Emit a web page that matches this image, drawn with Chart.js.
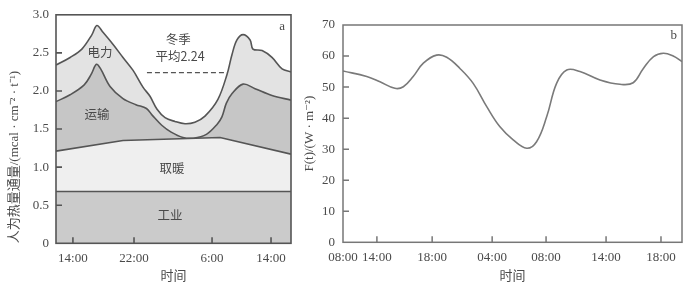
<!DOCTYPE html>
<html>
<head>
<meta charset="utf-8">
<script src="https://cdn.jsdelivr.net/npm/chart.js@4"></script>
<style>
  html, body { margin: 0; padding: 0; background: #fff; }
  #wrap { position: relative; width: 692px; height: 291px; }
  #left { position: absolute; left: 0; top: 0; }
  #right { position: absolute; left: 300px; top: 0; }
</style>
</head>
<body>
<div id="wrap">
  <canvas id="left" width="300" height="291"></canvas>
  <canvas id="right" width="392" height="291"></canvas>
</div>
<script>
// ---- panel a: stacked heat flux (cumulative tops), x = position along time axis (0..100)
const aTickPos = [7.2, 33.2, 66.4, 91.5];
const aTickLabels = ["14:00", "22:00", "6:00", "14:00"];

const industryX = [0, 100];
const industryY = [0.68, 0.68];

const heatingX = [0, 28.5, 69.8, 100];
const heatingY = [1.21, 1.35, 1.39, 1.17];

const transportX = [0, 6, 12, 15, 17.2, 19, 23, 28.5, 34, 38.5, 41, 45, 49, 54, 58.5, 64, 68.5, 70.6, 72.5, 75, 79.6, 84.7, 91.9, 100];
const transportY = [1.86, 1.95, 2.08, 2.22, 2.35, 2.29, 2.06, 1.90, 1.82, 1.77, 1.68, 1.55, 1.46, 1.39, 1.38, 1.43, 1.56, 1.66, 1.84, 1.97, 2.09, 2.03, 1.94, 1.88];

const powerX = [0, 6, 11, 15.3, 17.4, 20, 24.3, 28.5, 32.8, 37, 40, 43, 46.4, 50.6, 54.9, 59.1, 63.4, 68.9, 72.8, 74.9, 77, 79.6, 82.6, 83.8, 87.7, 91.9, 96.2, 100];
const powerY = [2.34, 2.44, 2.55, 2.74, 2.86, 2.77, 2.61, 2.44, 2.27, 2.05, 1.93, 1.76, 1.65, 1.60, 1.57, 1.59, 1.67, 1.89, 2.22, 2.48, 2.67, 2.74, 2.67, 2.55, 2.53, 2.44, 2.29, 2.25];

const avgX = [38.7, 72.8];
const avgValue = 2.24;

const aNotes = [
  ["电力", 18.7, 2.51],
  ["冬季", 52, 2.68],
  ["平均2.24", 52.8, 2.46],
  ["运输", 17.4, 1.69],
  ["取暖", 49.4, 0.99],
  ["工业", 48.5, 0.37],
  ["a", 96.2, 2.84]
];

// ---- panel b: F(t), x = position along time axis (0..100)
const bTickPos = [0, 10, 26.3, 44, 59.9, 77.6, 93.8];
const bTickLabels = ["08:00", "14:00", "18:00", "04:00", "08:00", "14:00", "18:00"];

const fluxX = [0, 7, 10.9, 15.3, 17.8, 20.7, 23.7, 27.6, 30.6, 34.5, 38.4, 42.4, 46.3, 50.2, 54.2, 57.1, 60.1, 63, 66, 69.9, 75.8, 81.7, 85.6, 88.6, 91.6, 94.5, 97.4, 100];
const fluxY = [55.2, 53.4, 51.7, 49.6, 50.1, 53.4, 57.7, 60.3, 59.6, 56.0, 51.2, 43.7, 37.2, 33.0, 30.3, 32.4, 40.5, 51.2, 55.5, 55.0, 52.3, 50.9, 51.4, 56.0, 59.8, 60.9, 60.0, 58.2];

const bNotes = [["b", 97.6, 66.5]];

function pts(xs, ys) {
  return xs.map((x, i) => ({ x: x, y: ys[i] }));
}

const serif = "'Liberation Serif', 'DejaVu Serif', serif";
const cjk = "'Noto Sans CJK SC', sans-serif";
const ink = "#4a4a4a";

// frame, inner tick marks and text notes
const frameTicks = {
  id: "frameTicks",
  afterDatasetsDraw(chart, args, opts) {
    const { ctx, chartArea: a, scales } = chart;
    const x = scales.x, y = scales.y;
    ctx.save();
    ctx.strokeStyle = opts.color;
    ctx.lineWidth = opts.width;
    ctx.strokeRect(a.left, a.top, a.width, a.height);
    ctx.beginPath();
    x.ticks.forEach(t => {
      const px = x.getPixelForValue(t.value);
      if (px - a.left < 2 || a.right - px < 2) return;
      ctx.moveTo(px, a.bottom);
      ctx.lineTo(px, a.bottom - opts.len);
    });
    y.ticks.forEach(t => {
      const py = y.getPixelForValue(t.value);
      if (py - a.top < 2 || a.bottom - py < 2) return;
      ctx.moveTo(a.left, py);
      ctx.lineTo(a.left + opts.len, py);
    });
    ctx.stroke();
    ctx.fillStyle = ink;
    ctx.textAlign = "center";
    ctx.textBaseline = "middle";
    (opts.notes || []).forEach(n => {
      const isLatin = /^[a-z]$/.test(n[0]);
      ctx.font = isLatin ? "13px " + serif : "12.5px " + cjk;
      ctx.fillText(n[0], x.getPixelForValue(n[1]), y.getPixelForValue(n[2]));
    });
    ctx.restore();
  }
};

function xAxis(tickPos, tickLabels, h) {
  return {
    type: "linear",
    min: 0,
    max: 100,
    grid: { display: false, drawTicks: false },
    border: { display: false },
    afterBuildTicks: s => { s.ticks = tickPos.map(v => ({ value: v })); },
    afterFit: s => { s.height = h; },
    ticks: {
      padding: 7,
      color: ink,
      font: { family: serif, size: 13 },
      maxRotation: 0,
      autoSkip: false,
      callback: (v, i) => tickLabels[i]
    },
    title: {
      display: true,
      text: "时间",
      color: ink,
      font: { family: cjk, size: 13 },
      padding: { top: 0, bottom: 8 }
    }
  };
}

Chart.defaults.animation = false;

new Chart(document.getElementById("left").getContext("2d"), {
  type: "line",
  data: {
    datasets: [
      { data: pts(industryX, industryY), borderColor: "#555", borderWidth: 1.6, backgroundColor: "#cbcbcb", fill: "origin", tension: 0 },
      { data: pts(heatingX, heatingY), borderColor: "#555", borderWidth: 1.6, backgroundColor: "#efefef", fill: "-1", tension: 0 },
      { data: pts(transportX, transportY), borderColor: "#555", borderWidth: 1.6, backgroundColor: "#c6c6c6", fill: "-1", tension: 0.35 },
      { data: pts(powerX, powerY), borderColor: "#555", borderWidth: 1.6, backgroundColor: "#e3e3e3", fill: "-1", tension: 0.35 },
      { data: avgX.map(x => ({ x: x, y: avgValue })), borderColor: "#555", borderWidth: 1.3, borderDash: [5, 3], fill: false }
    ]
  },
  options: {
    responsive: false,
    events: [],
    layout: { padding: { top: 12.7, right: 9, left: 0, bottom: 0 } },
    elements: { point: { radius: 0 } },
    plugins: {
      legend: { display: false },
      tooltip: { enabled: false },
      frameTicks: { color: "#555", width: 1.6, len: 6, notes: aNotes }
    },
    scales: {
      x: xAxis(aTickPos, aTickLabels, 47.7),
      y: {
        min: 0,
        max: 3,
        grid: { display: false, drawTicks: false },
        border: { display: false },
        afterFit: s => { s.width = 56; },
        ticks: {
          stepSize: 0.5,
          padding: 7,
          color: ink,
          font: { family: serif, size: 13 },
          callback: v => (v === 0 ? "0" : v.toFixed(1))
        },
        title: {
          display: true,
          text: "人为热量通量/(mcal · cm⁻² · t⁻¹)",
          align: "start",
          color: ink,
          font: { family: "'Liberation Serif', 'Noto Sans CJK SC', serif", size: 13 },
          padding: { top: 7, bottom: 0 }
        }
      }
    }
  },
  plugins: [frameTicks]
});

new Chart(document.getElementById("right").getContext("2d"), {
  type: "line",
  data: {
    datasets: [
      { data: pts(fluxX, fluxY), borderColor: "#7a7a7a", borderWidth: 1.6, fill: false, tension: 0.4 }
    ]
  },
  options: {
    responsive: false,
    events: [],
    layout: { padding: { top: 25, right: 10, left: 0, bottom: 0 } },
    elements: { point: { radius: 0 } },
    plugins: {
      legend: { display: false },
      tooltip: { enabled: false },
      frameTicks: { color: "#777", width: 1.5, len: 6, notes: bNotes }
    },
    scales: {
      x: xAxis(bTickPos, bTickLabels, 48.7),
      y: {
        min: 0,
        max: 70,
        grid: { display: false, drawTicks: false },
        border: { display: false },
        afterFit: s => { s.width = 43; },
        ticks: {
          stepSize: 10,
          padding: 8,
          color: ink,
          font: { family: serif, size: 13 },
          callback: v => String(v)
        },
        title: {
          display: true,
          text: "F(t)/(W · m⁻²)",
          color: ink,
          font: { family: serif, size: 13 },
          padding: { top: 2, bottom: 0 }
        }
      }
    }
  },
  plugins: [frameTicks]
});
</script>
</body>
</html>
